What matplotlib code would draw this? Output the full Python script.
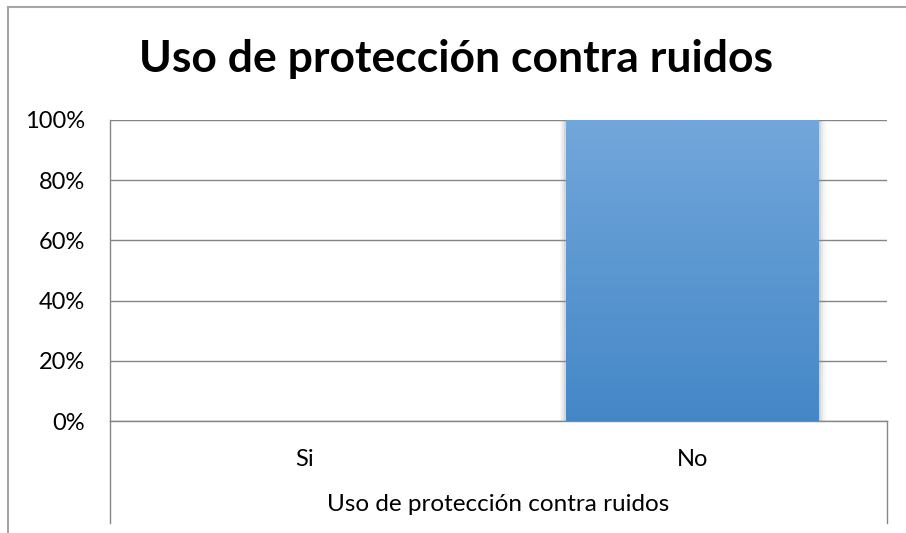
import numpy as np
import matplotlib
matplotlib.use("Agg")
import matplotlib.pyplot as plt
from matplotlib.colors import LinearSegmentedColormap
from matplotlib.lines import Line2D
import matplotlib.patheffects as pe

title = "Uso de protección contra ruidos"
group_label = "Uso de protección contra ruidos"
categories = ["Si", "No"]
values = [0, 100]
yticks = [0, 20, 40, 60, 80, 100]

plt.rcParams['font.family'] = ['Lato', 'DejaVu Sans']

W, H = 906, 533
fig = plt.figure(figsize=(W / 100, H / 100), dpi=100)
L, R, T, B = 110, 887, 120, 421
ax = fig.add_axes([L / W, 1 - B / H, (R - L) / W, (B - T) / H])

x = np.arange(len(categories))
bars = ax.bar(x, values, width=0.65, color='#5B9BD5', zorder=2,
              edgecolor='none')
cmap = LinearSegmentedColormap.from_list('g', ['#4487C7', '#72A7DB'])
grad = np.linspace(0, 1, 256).reshape(-1, 1)
for b, v in zip(bars, values):
    if v <= 0:
        continue
    b.set_path_effects([
        pe.SimplePatchShadow(offset=(0, -2), alpha=0.25, shadow_rgbFace='#606060'),
        pe.Stroke(linewidth=9, foreground='#909090', alpha=0.08),
        pe.Stroke(linewidth=6, foreground='#909090', alpha=0.12),
        pe.Stroke(linewidth=3, foreground='#808080', alpha=0.18),
        pe.Normal()])
    x0 = b.get_x()
    im = ax.imshow(grad, extent=[x0, x0 + b.get_width(), 0, v], origin='lower',
                   aspect='auto', cmap=cmap, zorder=3)
    im.set_clip_path(b)

ax.set_xlim(-0.5, len(categories) - 0.5)
ax.set_ylim(0, 100)
ax.set_yticks(yticks)
ax.set_yticklabels([f"{t}%" for t in yticks], fontsize=17)
ax.set_xticks(x)
ax.set_xticklabels(categories, fontsize=17)
ax.tick_params(axis='both', length=0)
ax.tick_params(axis='y', pad=18)
ax.tick_params(axis='x', pad=20)
ax.yaxis.grid(True, color='#868686', lw=1, zorder=0)
ax.set_axisbelow(True)
for s in ['top', 'right']:
    ax.spines[s].set_visible(False)
ax.spines['left'].set_color('#868686')
ax.spines['bottom'].set_color('#868686')
ax.spines['left'].set_linewidth(1)
ax.spines['bottom'].set_linewidth(1)

ybot = -(523 - B) / (B - T)
for xa in [0, 1]:
    ax.add_line(Line2D([xa, xa], [0, ybot], transform=ax.transAxes,
                       color='#868686', lw=1, clip_on=False))

ax.text(0.5, -(511 - B) / (B - T), group_label, transform=ax.transAxes,
        ha='center', va='baseline', fontsize=17.5)

fig.text(456 / W, 1 - 72 / H, title, ha='center', va='baseline',
         fontsize=32, fontweight='bold')

# outer chart border (left and top visible)
fig.add_artist(Line2D([8 / W, 8 / W], [0, 1 - 7 / H], transform=fig.transFigure,
                      color='#A6A6A6', lw=1.5))
fig.add_artist(Line2D([8 / W, 1], [1 - 7 / H, 1 - 7 / H], transform=fig.transFigure,
                      color='#A6A6A6', lw=1.5))

fig.savefig('out.png', dpi=100)
